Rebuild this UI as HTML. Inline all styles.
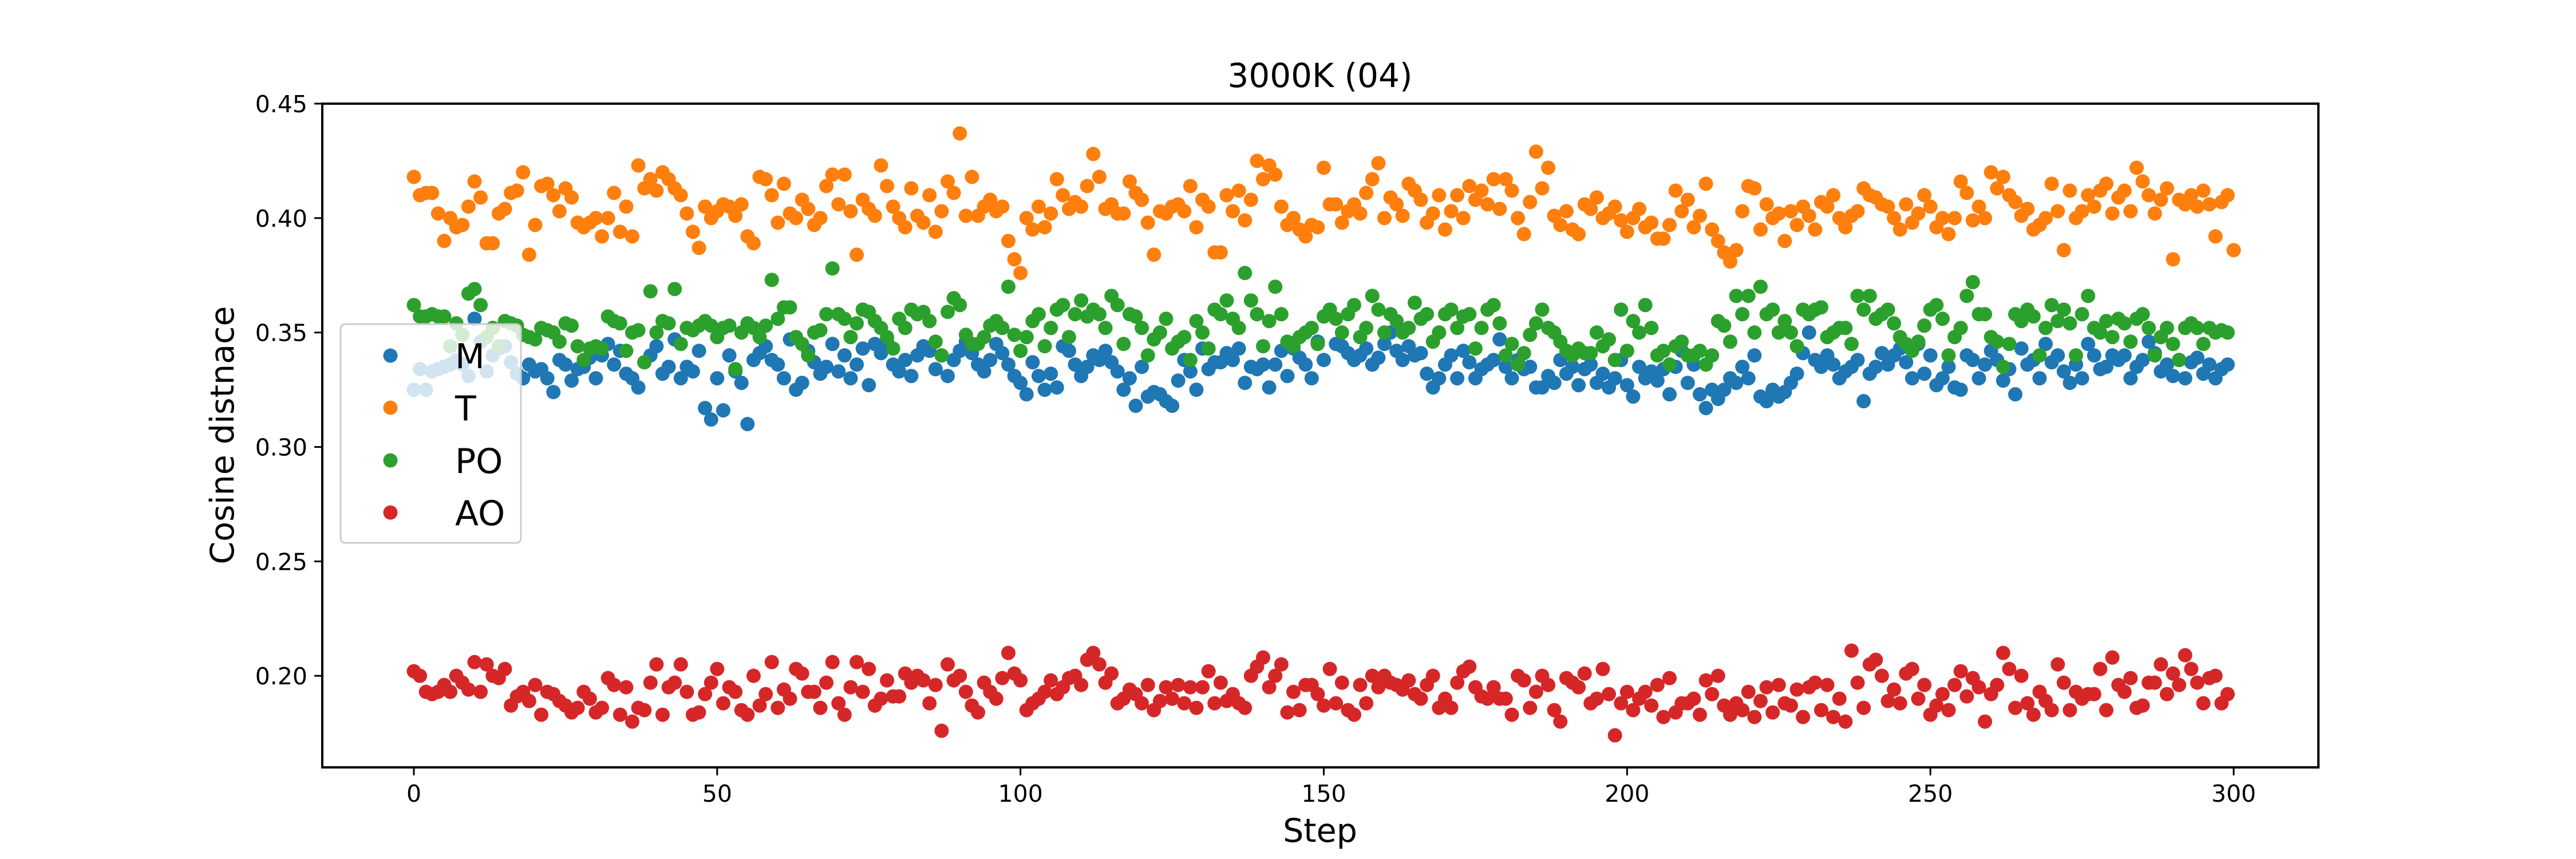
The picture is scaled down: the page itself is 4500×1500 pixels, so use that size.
<!DOCTYPE html>
<html><head><meta charset="utf-8"><style>
html,body{margin:0;padding:0;background:#fff;}
svg{display:block;}
text{font-family:"DejaVu Sans","Liberation Sans",sans-serif;fill:#000;}
</style></head><body>
<svg id="chart" width="4500" height="1500" viewBox="0 0 4500 1500" xmlns="http://www.w3.org/2000/svg">
<rect width="4500" height="1500" fill="#fff"/>
<g id="plot"></g>
<rect x="563" y="181" width="3487" height="1159" fill="none" stroke="#000" stroke-width="4"/>
<g id="xticks"></g><g id="yticks"></g>
<text x="2306" y="152" font-size="58" text-anchor="middle">3000K (04)</text>
<text x="2306" y="1470" font-size="57" text-anchor="middle">Step</text>
<text x="0" y="0" font-size="57" text-anchor="middle" transform="translate(408,760) rotate(-90)">Cosine distnace</text>
<g id="legend"></g>
</svg>
<script>
const seriesNames = ["M","T","PO","AO"];
const seriesColors = ["#1f77b4","#ff7f0e","#2ca02c","#d62728"];
const xTicks = [0,50,100,150,200,250,300];
const yTicks = [0.20,0.25,0.30,0.35,0.40,0.45];
const yTickLabels = ["0.20","0.25","0.30","0.35","0.40","0.45"];
const valuesT = [.418,.410,.411,.411,.402,.390,.400,.396,.397,.405,.416,.409,.389,.389,.402,.404,.411,.412,.420,.384,
.397,.414,.415,.410,.403,.413,.409,.398,.396,.398,.400,.392,.400,.411,.394,.405,.392,.423,.413,.417,
.412,.420,.417,.413,.410,.402,.394,.387,.405,.400,.403,.406,.405,.401,.406,.392,.389,.418,.417,.410,
.398,.415,.402,.400,.408,.404,.397,.400,.414,.419,.406,.419,.403,.384,.408,.404,.401,.423,.414,.405,
.400,.396,.413,.401,.398,.410,.394,.403,.416,.411,.437,.401,.418,.401,.405,.408,.403,.405,.390,.382,
.376,.400,.395,.405,.396,.402,.417,.410,.404,.407,.405,.414,.428,.418,.404,.406,.402,.402,.416,.411,
.408,.398,.384,.403,.402,.405,.406,.403,.414,.396,.408,.405,.385,.385,.410,.403,.412,.399,.408,.425,
.417,.423,.419,.405,.397,.400,.395,.392,.397,.396,.422,.406,.406,.398,.403,.406,.402,.411,.417,.424,
.400,.409,.406,.401,.415,.412,.408,.398,.402,.410,.395,.403,.410,.400,.414,.408,.412,.406,.417,.404,
.417,.412,.400,.393,.407,.429,.413,.422,.401,.397,.403,.395,.393,.406,.404,.409,.400,.402,.405,.399,
.394,.400,.404,.396,.398,.391,.391,.397,.412,.403,.408,.396,.401,.415,.395,.390,.385,.381,.386,.403,
.414,.413,.395,.406,.400,.402,.390,.403,.397,.405,.401,.395,.407,.405,.410,.400,.396,.401,.403,.413,
.410,.409,.406,.405,.400,.395,.406,.398,.402,.410,.405,.396,.400,.393,.400,.416,.411,.399,.405,.400,
.420,.413,.418,.410,.407,.401,.404,.395,.397,.400,.415,.403,.386,.412,.400,.403,.410,.405,.412,.415,
.402,.409,.412,.403,.422,.416,.410,.402,.408,.413,.382,.408,.406,.410,.405,.412,.406,.392,.407,.410,.386];
const valuesM = [.325,.334,.325,.333,.334,.335,.336,.338,.336,.331,.356,.346,.333,.340,.343,.344,.337,.332,.330,.336,
.333,.334,.330,.324,.338,.336,.329,.334,.335,.339,.330,.340,.345,.336,.342,.332,.330,.326,.337,.340,
.344,.332,.335,.347,.330,.335,.333,.342,.317,.312,.330,.316,.340,.333,.328,.310,.338,.341,.344,.338,
.336,.330,.347,.325,.328,.342,.337,.332,.335,.345,.333,.340,.330,.336,.343,.327,.345,.341,.346,.336,
.333,.338,.331,.340,.344,.342,.334,.340,.331,.338,.342,.346,.341,.336,.333,.338,.345,.341,.336,.331,
.328,.323,.337,.331,.325,.332,.326,.344,.342,.336,.331,.335,.340,.338,.342,.337,.333,.325,.330,.318,
.335,.322,.324,.323,.320,.318,.329,.338,.333,.325,.343,.334,.337,.337,.341,.338,.343,.328,.335,.334,
.336,.326,.336,.342,.331,.343,.339,.336,.330,.346,.338,.360,.345,.344,.341,.338,.340,.343,.336,.339,
.345,.350,.342,.338,.344,.340,.341,.332,.326,.330,.336,.340,.330,.342,.337,.330,.334,.336,.338,.347,
.335,.330,.338,.334,.335,.326,.326,.331,.328,.338,.332,.335,.327,.334,.336,.328,.332,.326,.330,.338,
.327,.322,.335,.330,.333,.329,.334,.323,.335,.342,.328,.336,.323,.317,.325,.321,.325,.330,.328,.335,
.330,.340,.322,.320,.325,.322,.324,.328,.332,.341,.350,.338,.335,.340,.336,.330,.333,.335,.338,.320,
.332,.335,.341,.336,.340,.343,.337,.330,.345,.332,.340,.327,.330,.335,.326,.325,.340,.338,.330,.336,
.342,.338,.329,.334,.323,.343,.336,.338,.330,.345,.337,.340,.333,.328,.336,.330,.345,.340,.334,.335,
.340,.338,.340,.330,.335,.338,.346,.341,.333,.336,.331,.338,.330,.337,.339,.332,.336,.330,.334,.336];
const valuesPO = [.362,.357,.357,.358,.357,.357,.344,.354,.349,.367,.369,.362,.348,.352,.344,.355,.354,.353,.349,.348,
.347,.352,.351,.350,.346,.354,.353,.344,.338,.343,.344,.343,.357,.355,.354,.342,.350,.351,.337,.368,
.350,.355,.354,.369,.345,.352,.351,.353,.355,.353,.348,.352,.353,.334,.350,.354,.352,.348,.353,.373,
.356,.361,.361,.348,.345,.340,.350,.351,.358,.378,.358,.356,.348,.354,.360,.359,.355,.352,.348,.343,
.356,.352,.360,.358,.359,.355,.346,.340,.359,.365,.362,.349,.345,.345,.348,.353,.355,.352,.370,.349,
.342,.348,.355,.358,.344,.352,.360,.362,.348,.358,.364,.357,.360,.358,.352,.366,.362,.345,.358,.357,
.352,.340,.347,.350,.356,.343,.346,.348,.338,.355,.350,.343,.360,.358,.364,.356,.352,.376,.364,.358,
.344,.355,.370,.358,.346,.344,.348,.350,.352,.345,.357,.360,.356,.350,.358,.362,.348,.352,.366,.360,
.350,.358,.355,.350,.352,.363,.356,.358,.346,.350,.358,.360,.352,.357,.358,.343,.352,.360,.362,.354,
.340,.345,.336,.341,.349,.354,.360,.352,.350,.346,.342,.340,.343,.341,.341,.350,.344,.347,.338,.360,
.342,.355,.350,.362,.352,.340,.342,.336,.344,.346,.340,.340,.342,.336,.340,.355,.353,.346,.366,.358,
.366,.350,.370,.358,.360,.350,.355,.350,.344,.360,.358,.360,.361,.348,.350,.352,.352,.345,.366,.360,
.366,.356,.358,.360,.354,.348,.345,.342,.346,.353,.360,.362,.356,.340,.348,.352,.366,.372,.358,.358,
.348,.346,.335,.345,.358,.355,.360,.357,.340,.352,.362,.355,.360,.354,.340,.358,.366,.352,.350,.355,
.348,.356,.354,.346,.356,.358,.352,.340,.348,.352,.345,.338,.352,.354,.352,.345,.352,.350,.351,.350];
const valuesAO = [.202,.200,.193,.192,.193,.196,.193,.200,.197,.194,.206,.193,.205,.200,.199,.203,.187,.191,.193,.189,
.196,.183,.193,.192,.189,.187,.184,.186,.193,.190,.184,.186,.199,.196,.183,.195,.180,.186,.185,.197,
.205,.183,.195,.197,.205,.193,.183,.184,.192,.197,.203,.188,.195,.193,.185,.183,.200,.187,.192,.206,
.186,.194,.190,.203,.201,.193,.193,.186,.197,.206,.188,.183,.195,.206,.193,.203,.187,.190,.198,.191,
.191,.201,.197,.200,.198,.188,.196,.176,.205,.198,.200,.193,.187,.184,.197,.193,.190,.199,.210,.201,
.198,.185,.188,.190,.193,.198,.192,.195,.199,.200,.196,.207,.210,.205,.197,.201,.188,.190,.194,.192,
.188,.196,.185,.189,.195,.190,.196,.188,.195,.186,.195,.202,.188,.197,.189,.192,.188,.186,.200,.204,
.208,.195,.200,.205,.184,.193,.185,.196,.196,.192,.187,.203,.188,.197,.185,.183,.196,.188,.200,.195,
.200,.197,.196,.194,.198,.192,.190,.196,.200,.186,.190,.186,.197,.202,.204,.195,.191,.190,.195,.190,
.190,.183,.200,.198,.186,.193,.200,.196,.185,.180,.199,.197,.195,.201,.188,.190,.203,.192,.174,.188,
.193,.185,.190,.193,.187,.196,.182,.199,.184,.188,.188,.190,.183,.198,.192,.200,.187,.183,.188,.185,
.193,.182,.189,.195,.184,.196,.188,.187,.194,.182,.195,.197,.185,.196,.182,.190,.180,.211,.197,.186,
.205,.207,.200,.189,.194,.188,.201,.203,.190,.196,.183,.187,.192,.185,.196,.202,.191,.199,.195,.180,
.192,.196,.210,.203,.186,.200,.188,.183,.193,.189,.185,.205,.197,.185,.193,.190,.192,.192,.203,.185,
.208,.196,.193,.199,.186,.187,.197,.197,.205,.192,.201,.196,.209,.203,.197,.188,.199,.200,.188,.192];

const NS="http://www.w3.org/2000/svg";
const X0=723, X300=3902, YTOP=181, YBOT=1340, VMAX=0.45, VMIN=0.16;
function xScale(i){return X0+(X300-X0)*i/300;}
function yScale(v){return YTOP+(VMAX-v)/(VMAX-VMIN)*(YBOT-YTOP);}
function mk(tag,attrs,parent){const e=document.createElementNS(NS,tag);for(const k in attrs)e.setAttribute(k,attrs[k]);parent.appendChild(e);return e;}

const plot=document.getElementById('plot');
const allSeries=[valuesM,valuesT,valuesPO,valuesAO];
allSeries.forEach((vals,s)=>{
  const g=mk('g',{},plot);
  
  
  vals.forEach((v,i)=>{
    const c=mk('circle',{cx:xScale(i),cy:yScale(v),r:12.5,fill:seriesColors[s]},g);
    
    
  });
});

const xt=document.getElementById('xticks');
xTicks.forEach(t=>{
  const x=xScale(t);
  const l=mk('line',{x1:x,x2:x,y1:YBOT,y2:YBOT+14,stroke:'#000','stroke-width':3},xt);
  
  
  const tx=mk('text',{x:x,y:YBOT+60,'font-size':41,'text-anchor':'middle'},xt);
  tx.textContent=String(t);
  
  
});
const yt=document.getElementById('yticks');
yTicks.forEach((t,i)=>{
  const y=yScale(t);
  const l=mk('line',{x1:563-14,x2:563,y1:y,y2:y,stroke:'#000','stroke-width':3},yt);
  
  
  const tx=mk('text',{x:537,y:y+15,'font-size':41,'text-anchor':'end'},yt);
  tx.textContent=yTickLabels[i];
  
  
});

const lg=document.getElementById('legend');
mk('rect',{x:595,y:566,width:315,height:382,rx:8,fill:'#fff','fill-opacity':0.8,stroke:'#ccc','stroke-width':3},lg);
const rowY=[621,712,804,895];
seriesNames.forEach((n,i)=>{
  const c=mk('circle',{cx:682,cy:rowY[i],r:12.5,fill:seriesColors[i]},lg);
  
  
  const t=mk('text',{x:795,y:rowY[i]+22,'font-size':60},lg);
  t.textContent=n;
  
  
});
</script>
</body></html>
